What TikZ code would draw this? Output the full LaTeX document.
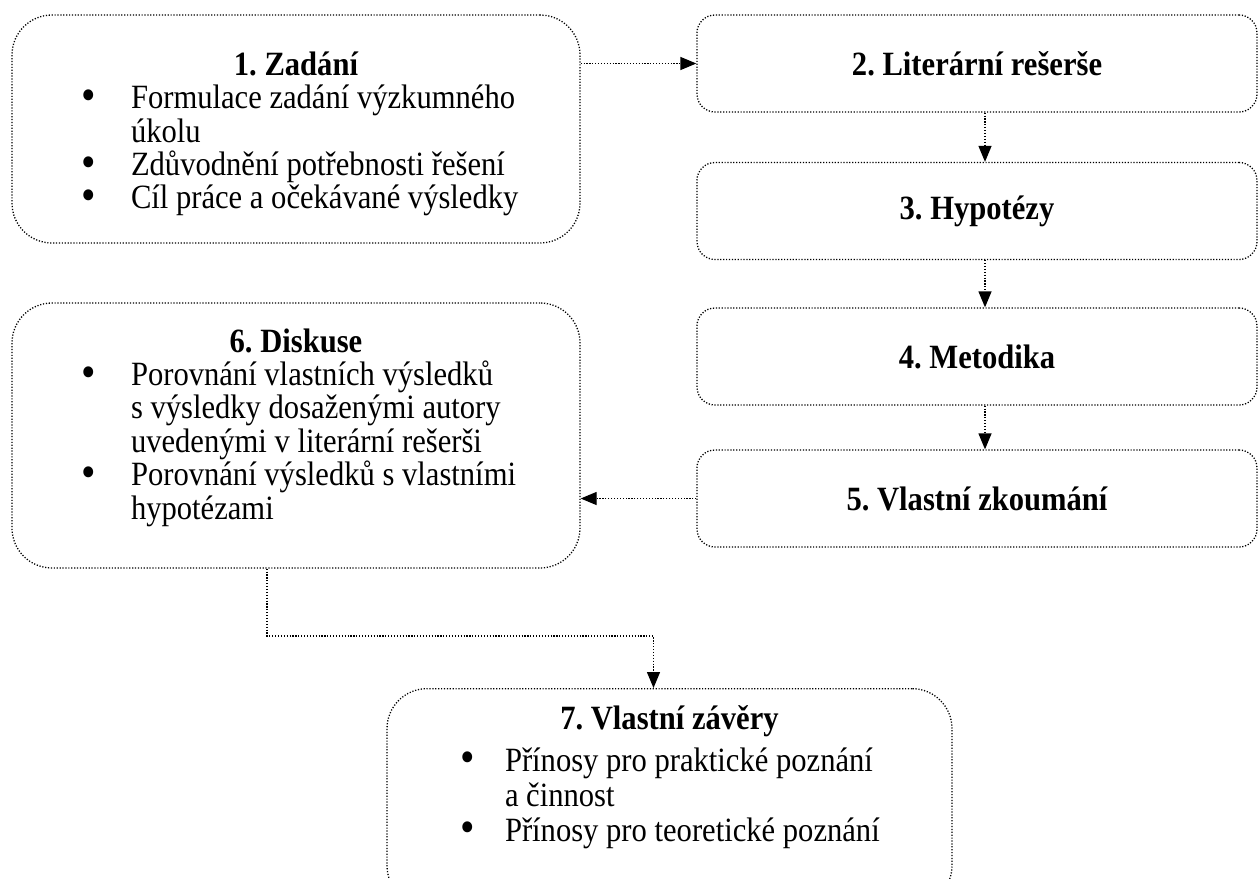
\documentclass[tikz,border=0pt]{standalone}
\usepackage{fontspec}
\usepackage{graphicx}
\setmainfont{Liberation Serif}[FakeStretch=0.9]
\usetikzlibrary{arrows.meta}

% bullet position and hanging indent inside the list boxes
\newlength\bpos
\newlength\bind
\newcommand{\fixspace}{\spaceskip=\fontdimen2\font\relax\xspaceskip=\fontdimen2\font\relax}
\newcommand{\bigdot}{\raisebox{-1.5pt}{\scalebox{1.35}{\textbullet}}}
\newcommand{\bitem}[1]{\par\noindent\hangindent=\bind\hangafter=1%
  \makebox[\bind][l]{\hspace{\bpos}\bigdot}\fixspace#1}
\newcommand{\boxhead}[1]{{\centering\bfseries\fixspace #1\par}}

\begin{document}
\frenchspacing
\begin{tikzpicture}[x=1pt,y=-1pt,
  dots/.style={line width=1.3pt, dash pattern=on 1.2pt off 1.7pt},
  bigbox/.style={draw, dots, rounded corners=40pt},
  listtext/.style={inner sep=0pt, font=\fontsize{34}{33.4}\selectfont},
  stepbox/.style={draw, dots, rounded corners=18pt, minimum width=560pt,
    minimum height=97pt, font=\fontsize{34}{37}\selectfont\bfseries},
  link/.style={dots, -{Triangle[length=16pt,width=13pt]}}]

\fill[white] (0,0) rectangle (1258,878);
\useasboundingbox (0,0) rectangle (1258,878);

% left column
\node[bigbox, minimum width=568pt, minimum height=228pt] (b1) at (296,129) {};
\node[listtext, text width=528pt] (t1) at ([yshift=-5pt]b1.center)
 {\raggedright\setlength\bpos{49pt}\setlength\bind{99pt}%
  \boxhead{1. Zadání}%
  \bitem{Formulace zadání výzkumného\newline úkolu}%
  \bitem{Zdůvodnění potřebnosti řešení}%
  \bitem{Cíl práce a očekávané výsledky}\par};

\node[bigbox, minimum width=568pt, minimum height=265pt] (b6) at (296,435.5) {};
\node[listtext, text width=528pt] (t6) at ([yshift=8pt]b6.center)
 {\raggedright\setlength\bpos{49pt}\setlength\bind{99pt}%
  \boxhead{6. Diskuse}%
  \bitem{Porovnání vlastních výsledků\newline s výsledky dosaženými autory\newline uvedenými v literární rešerši}%
  \bitem{Porovnání výsledků s vlastními\newline hypotézami}\par};

% right column
\node[stepbox] (b2) at (977,63.5) {2. Literární rešerše};
\node[stepbox] (b3) at (977,211)  {3. Hypotézy};
\node[stepbox] (b4) at (977,356.5) {4. Metodika};
\node[stepbox] (b5) at (977,498.5) {5. Vlastní zkoumání};

% conclusions
\node[bigbox, anchor=north, minimum width=565pt, minimum height=217pt] (b7) at (669.5,688) {};
\node[listtext, anchor=north, text width=525pt, font=\fontsize{34}{35}\selectfont] (t7)
  at ([yshift=-17pt]b7.north)
 {\raggedright\setlength\bpos{53pt}\setlength\bind{98pt}%
  \boxhead{7. Vlastní závěry}\vspace{7pt}%
  \bitem{Přínosy pro praktické poznání\newline a činnost}%
  \bitem{Přínosy pro teoretické poznání}\par};

% connectors
\draw[link] (b2.west -| b1.east) -- (b2.west);
\draw[link] ([xshift=8pt]b2.south) -- ([xshift=8pt]b3.north);
\draw[link] ([xshift=8pt]b3.south) -- ([xshift=8pt]b4.north);
\draw[link] ([xshift=8pt]b4.south) -- ([xshift=8pt]b5.north);
\draw[link] (b5.west) -- (b5.west -| b6.east);

\coordinate (bend) at (0,636);
\coordinate (e1) at ([xshift=-29pt]b6.south);
\coordinate (e2) at ([xshift=-16pt]b7.north);
\draw[link] (e1) -- (e1 |- bend) -| (e2);
\end{tikzpicture}
\end{document}
